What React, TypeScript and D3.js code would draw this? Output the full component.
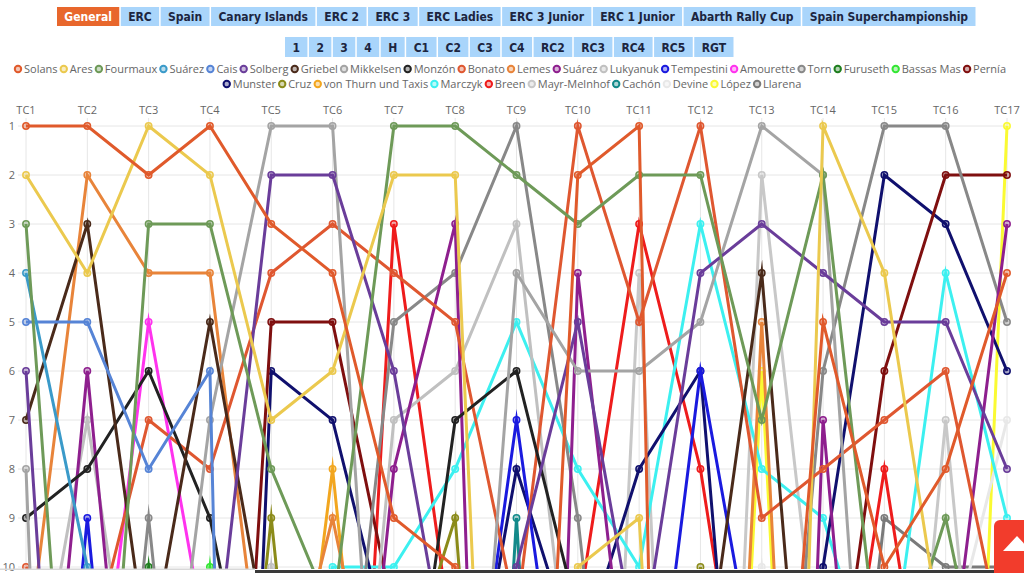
import React, { useMemo } from "react";
import * as d3 from "d3";

const stages = ["TC1","TC2","TC3","TC4","TC5","TC6","TC7","TC8","TC9","TC10","TC11","TC12","TC13","TC14","TC15","TC16","TC17"];
const yTicks = [1,2,3,4,5,6,7,8,9,10];
const mainTabs = ["General","ERC","Spain","Canary Islands","ERC 2","ERC 3","ERC Ladies","ERC 3 Junior","ERC 1 Junior","Abarth Rally Cup","Spain Superchampionship"];
const classTabs = ["1","2","3","4","H","C1","C2","C3","C4","RC2","RC3","RC4","RC5","RGT"];

const solans     = [1,1,2,1,3,4,9,10,26,2,1,60,20,5,10,8,4];
const ares       = [2,4,1,2,7,6,2,2,30,10,9,30,40,1,4,12,20];
const fourmaux   = [3,20,3,3,8,11,1,1,2,3,2,2,7,2,13,9,15];
const suarezA    = [4,10,18,20,20,20,20,20,20,20,20,20,20,20,20,20,20];
const cais       = [5,5,8,6,60,60,60,60,60,60,60,60,60,60,60,60,60];
const solberg    = [6,25,20,13,2,2,6,13,10,5,12,4,3,4,5,5,8];
const griebel    = [7,3,12,5,12,20,20,20,20,20,20,13,4,19,20,20,20];
const mikkelsen  = [8,40,17,7,1,1,20,20,4,6,6,5,1,2,20,20,20];
const monzon     = [9,8,6,9,15,16,16,7,6,11,20,20,20,20,20,20,20];
const bonato     = [10,12,7,8,4,3,4,5,11,1,5,1,9,8,7,6,12];
const lemes      = [12,2,4,4,14,9,15,20,20,20,20,30,5,30,20,20,20];
const suarezB    = [19,6,19,20,20,20,8,3,40,4,15,20,40,7,21,13,3];
const lukyanuk   = [14,7,15,20,10,20,7,6,3,14,20,20,20,20,20,20,20];
const tempestini = [22,9,22,20,20,20,20,16,7,16,16,6,13,20,20,20,20];
const amourette  = [15,15,5,12,20,20,20,20,20,20,20,20,20,20,20,20,20];
const torn       = [21,21,9,21,20,16,5,4,1,9,20,20,20,6,1,1,5];
const furuseth   = [20,20,10,20,20,20,20,20,20,20,20,20,20,20,20,20,20];
const bassasMas  = [20,20,20,10,20,20,20,20,20,20,20,20,20,20,20,20,20];
const pernia     = [25,25,25,25,5,5,11,20,20,20,20,20,20,15,6,2,2];
const munster    = [35,35,35,35,6,7,12,15,8,12,8,6,21,10,2,3,6];
const cruz       = [21,21,21,21,9,21,13,9,25,25,25,10,25,25,25,25,25];
const vonThurn   = [20,20,20,20,18,8,20,20,20,20,20,20,20,20,20,20,20];
const marczyk    = [20,20,20,20,20,10,10,8,5,8,10,3,8,9,13,4,9];
const breen      = [25,25,25,25,25,25,3,12,20,11,3,8,16,16,8,16,20];
const mayr       = [20,20,20,20,20,20,20,20,20,30,4,30,2,13,20,7,20];
const cachon     = [30,30,30,30,30,30,30,30,9,30,30,30,30,30,30,30,30];
const devine     = [20,20,20,20,20,20,20,20,20,20,20,20,10,20,20,12,7];
const lopez      = [30,30,30,30,30,30,30,30,30,30,30,30,6,30,30,30,1];
const llarena    = [20,20,20,20,20,20,20,20,20,20,20,20,20,20,9,10,10];

const drivers = [
  { name: "Solans", color: "#e05a2b", values: solans },
  { name: "Ares", color: "#ebc94e", values: ares },
  { name: "Fourmaux", color: "#6e9a58", values: fourmaux },
  { name: "Suárez", color: "#3a9ac9", values: suarezA },
  { name: "Cais", color: "#5684d6", values: cais },
  { name: "Solberg", color: "#6a3d9a", values: solberg },
  { name: "Griebel", color: "#4a2a1a", values: griebel },
  { name: "Mikkelsen", color: "#a4a4a4", values: mikkelsen },
  { name: "Monzón", color: "#222222", values: monzon },
  { name: "Bonato", color: "#df5730", values: bonato },
  { name: "Lemes", color: "#e8843a", values: lemes },
  { name: "Suárez", color: "#8e1f8e", values: suarezB },
  { name: "Lukyanuk", color: "#c0c0c0", values: lukyanuk },
  { name: "Tempestini", color: "#1a1adf", values: tempestini },
  { name: "Amourette", color: "#ff33ee", values: amourette },
  { name: "Torn", color: "#888888", values: torn },
  { name: "Furuseth", color: "#1e7e1e", values: furuseth },
  { name: "Bassas Mas", color: "#33e633", values: bassasMas },
  { name: "Pernía", color: "#7f0f0f", values: pernia },
  { name: "Munster", color: "#10106e", values: munster },
  { name: "Cruz", color: "#8b8b1a", values: cruz },
  { name: "von Thurn und Taxis", color: "#f2a61f", values: vonThurn },
  { name: "Marczyk", color: "#3cf0f0", values: marczyk },
  { name: "Breen", color: "#ee1c1c", values: breen },
  { name: "Mayr-Melnhof", color: "#c8c8c8", values: mayr },
  { name: "Cachón", color: "#138a8a", values: cachon },
  { name: "Devine", color: "#e8e8e8", values: devine },
  { name: "López", color: "#fafa32", values: lopez },
  { name: "Llarena", color: "#7a7a7a", values: llarena },
];

const W = 1024, H = 573;
const TAB_FONT = "bold 12px 'DejaVu Sans Condensed'";
const LEG_FONT = "11px 'Open Sans'";

function measure(text: string, font: string) {
  const ctx = document.createElement("canvas").getContext("2d")!;
  ctx.font = font;
  return ctx.measureText(text).width;
}

function layoutTabs(labels: string[], x0: number, x1: number) {
  const widths = labels.map((l) => measure(l, TAB_FONT));
  const sum = d3.sum(widths);
  const pad = (x1 - x0 - sum) / (labels.length * 2);
  let x = x0;
  return labels.map((l, i) => {
    const w = widths[i] + pad * 2;
    const r = { label: l, x, w };
    x += w;
    return r;
  });
}

export default function App() {
  const x = d3.scalePoint<string>().domain(stages).range([26, 1007]);
  const y = d3.scaleLinear().domain([1, 10]).range([126, 567]);
  const line = d3.line<number>().x((_, i) => x(stages[i])!).y((d) => y(d));

  const tabs1 = useMemo(() => layoutTabs(mainTabs, 57, 977), []);
  const tabs2 = useMemo(() => layoutTabs(classTabs, 285, 735), []);

  const legend = useMemo(() => {
    const rows = [drivers.slice(0, 19), drivers.slice(19)];
    const items = rows.map((r) => r.map((d) => ({ ...d, tw: measure(d.name, LEG_FONT) })));
    const row1Sum = d3.sum(items[0], (d) => d.tw + 10);
    const gap = (992 - row1Sum) / (items[0].length - 1);
    const out: any[] = [];
    items.forEach((row, ri) => {
      const total = d3.sum(row, (d) => d.tw + 10) + gap * (row.length - 1);
      let cx = ri === 0 ? 14 : 512 - total / 2;
      row.forEach((d) => {
        out.push({ ...d, x: cx, y: ri === 0 ? 69 : 84 });
        cx += d.tw + 10 + gap;
      });
    });
    return out;
  }, []);

  const order = drivers.map((d, i) => i).reverse();

  return (
    <svg width={W} height={H} style={{ position: "fixed", left: 0, top: 0, background: "#fff" }}>
      <rect width={W} height={H} fill="#fff" />
      {tabs1.map((t, i) => (
        <g key={"t1" + i}>
          <rect x={t.x} y={7} width={t.w - 1.5} height={19} fill={i === 0 ? "#e8672c" : "#a9d5fb"} />
          <text x={t.x + (t.w - 1.5) / 2} y={21} textAnchor="middle" style={{ font: TAB_FONT }} fill={i === 0 ? "#fff" : "#1c2540"}>{t.label}</text>
        </g>
      ))}
      {tabs2.map((t, i) => (
        <g key={"t2" + i}>
          <rect x={t.x} y={37} width={t.w - 1.5} height={20} fill="#a9d5fb" />
          <text x={t.x + (t.w - 1.5) / 2} y={52} textAnchor="middle" style={{ font: TAB_FONT }} fill="#1c2540">{t.label}</text>
        </g>
      ))}
      {legend.map((d, i) => (
        <g key={"lg" + i}>
          <circle cx={d.x + 4} cy={d.y} r={3.2} fill={d.color} fillOpacity={0.35} stroke={d.color} strokeWidth={2} />
          <text x={d.x + 10} y={d.y + 4} style={{ font: LEG_FONT }} fill="#666">{d.name}</text>
        </g>
      ))}
      {stages.map((s) => (
        <line key={"vg" + s} x1={x(s)} x2={x(s)} y1={118} y2={567} stroke="#e6e6e6" strokeWidth={1} />
      ))}
      {yTicks.map((t) => (
        <line key={"hg" + t} x1={18} x2={1007} y1={y(t)} y2={y(t)} stroke="#e6e6e6" strokeWidth={1} />
      ))}
      {stages.map((s) => (
        <text key={"xl" + s} x={x(s)} y={114} textAnchor="middle" style={{ font: "11px 'Open Sans'" }} fill="#666">{s}</text>
      ))}
      {yTicks.map((t) => (
        <text key={"yl" + t} x={15} y={y(t) + 4} textAnchor="end" style={{ font: "11px 'Open Sans'" }} fill="#666">{t}</text>
      ))}
      <defs>
        <clipPath id="plot">
          <rect x={20} y={118} width={994} height={451} />
        </clipPath>
      </defs>
      <g clipPath="url(#plot)">
        {order.map((i) => {
          const d = drivers[i];
          return (
            <g key={"s" + i}>
              <path d={line(d.values)!} fill="none" stroke={d.color} strokeWidth={3} strokeLinejoin="miter" strokeMiterlimit={10} />
              {d.values.map((v, j) =>
                v <= 10 ? (
                  <circle key={j} cx={x(stages[j])} cy={y(v)} r={3.2} fill={d.color} fillOpacity={0.35} stroke={d.color} strokeWidth={1.5} />
                ) : null
              )}
            </g>
          );
        })}
      </g>
      <rect x={0} y={568.5} width={255} height={1.5} fill="#d8d8d8" />
      <rect x={255} y={570} width={769} height={3} fill="#3a3a3a" />
      <rect x={994} y={520} width={44} height={60} rx={6} fill="#f23c2c" />
      <polygon points="1003,551 1017,536 1031,551" fill="#fff" />
    </svg>
  );
}
